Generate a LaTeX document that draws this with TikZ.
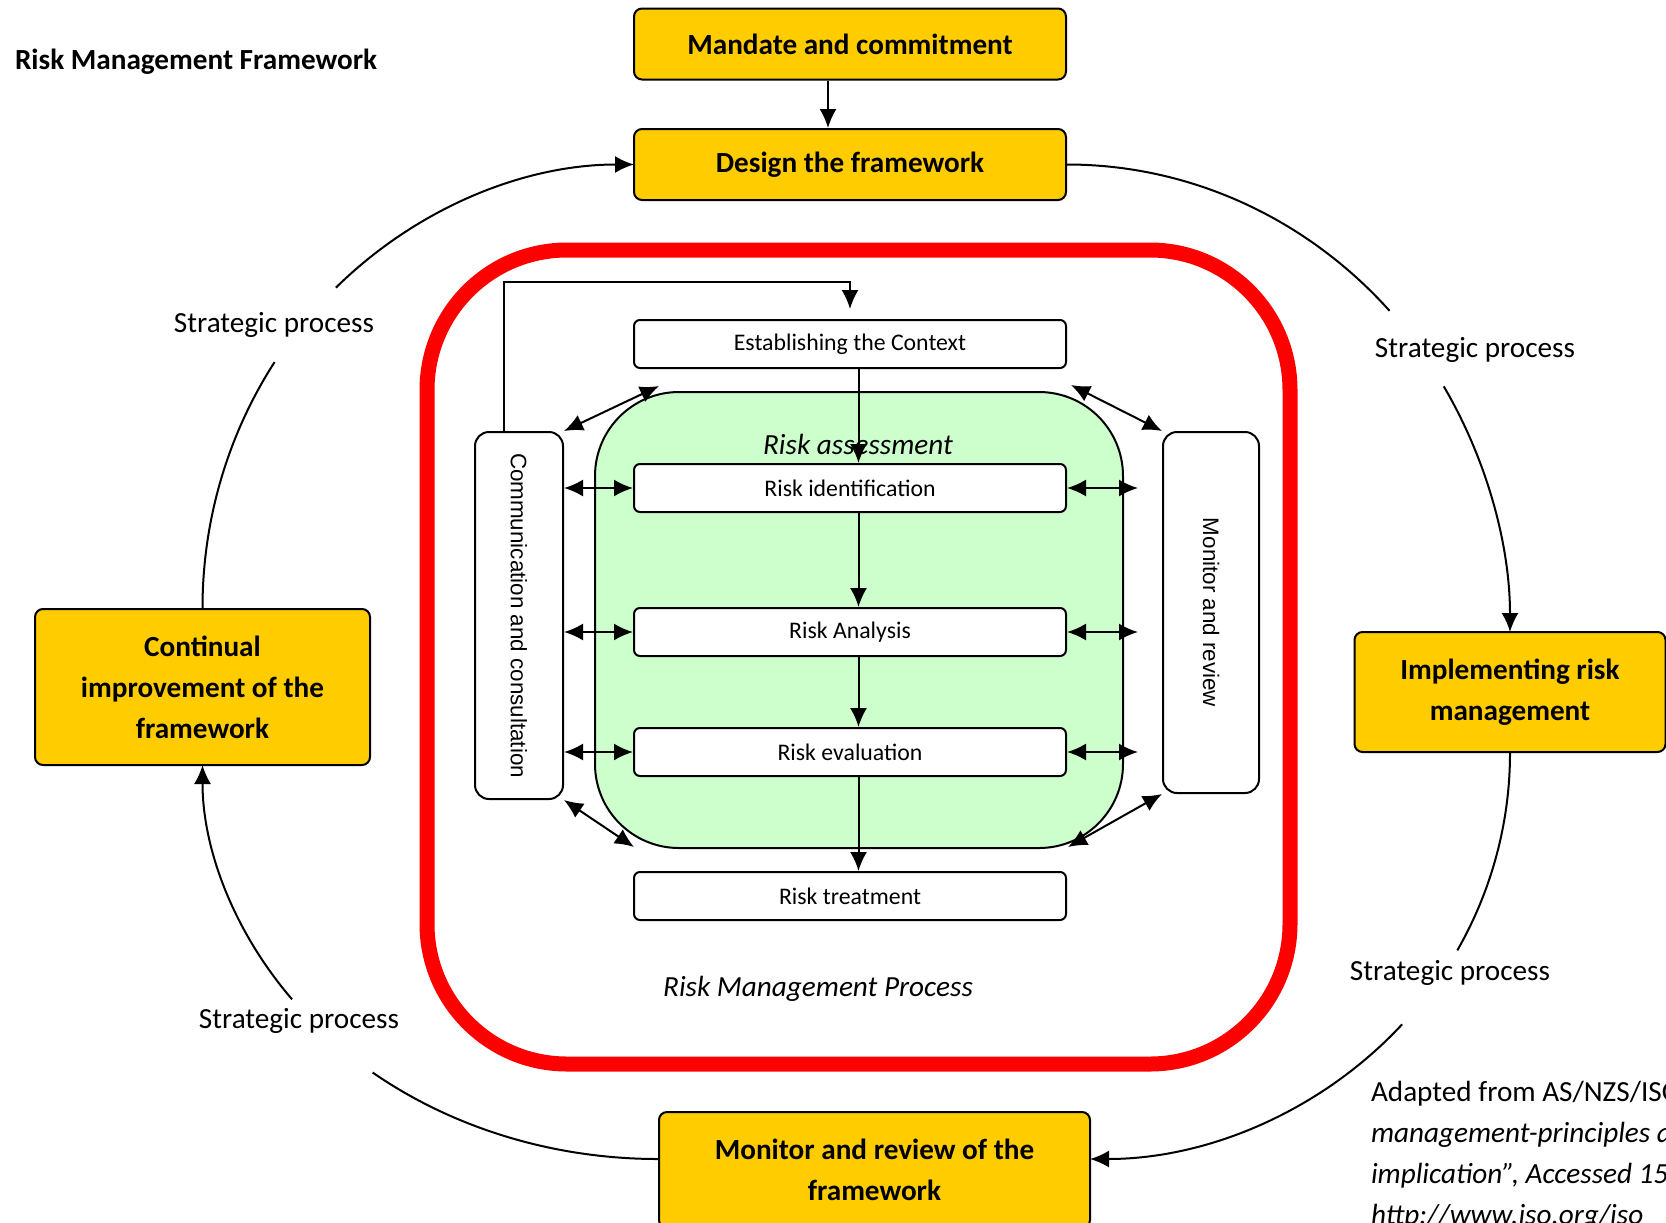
\documentclass[tikz,border=0pt]{standalone}
\usepackage{fontspec}
\setmainfont{Carlito}
\newfontfamily\sidefont{Liberation Sans}
\usepackage{graphicx}
\usepackage{tikz}
\usetikzlibrary{arrows.meta}
\definecolor{frameyellow}{RGB}{255,204,0}
\definecolor{assessgreen}{RGB}{204,255,204}
\tikzstyle{frame box}=[rectangle,draw=black,line width=1pt,fill=frameyellow,
	rounded corners=4pt,align=center,inner sep=0pt,font=\bfseries\fontsize{14.6}{20.5}\selectfont]
\tikzstyle{stage box}=[rectangle,draw=black,line width=1pt,fill=white,rounded corners=3pt,
	minimum width=216pt,minimum height=24pt,inner sep=0pt,font=\fontsize{11.9}{14}\selectfont]

\begin{document}
\begin{tikzpicture}[x=0.5pt,y=-0.5pt,>={Latex[length=9.5pt,width=8.5pt]},line width=1pt]
	\tikzstyle{side box}=[rectangle,draw=black,line width=1pt,fill=white,rounded corners=7pt,
		inner sep=0pt,font=\sidefont\fontsize{11.2}{13}\selectfont]
	\tikzstyle{plain text}=[inner sep=0pt,font=\fontsize{14.6}{20.5}\selectfont]
	\tikzstyle{note text}=[inner sep=0pt,font=\itshape\fontsize{14.6}{20.5}\selectfont]
	\useasboundingbox (0,0) rectangle (1666,1222);

		\draw[red,line width=7.5pt,rounded corners=70pt] (427,250) rectangle (1290,1064);
		\node[rectangle,draw=black,line width=1pt,fill=assessgreen,rounded corners=42pt,
			minimum width=264pt,minimum height=228pt] (assess) at (859,620) {};
		\node[note text] (assesslabel) at (858,444) {Risk assessment};
		\node[note text] (processlabel) at (818,989) {Risk Management Process};

		\node[anchor=west,inner sep=0pt,font=\bfseries\fontsize{14.6}{20.5}\selectfont] (title) at (14,62) {Risk Management Framework};

		\node[frame box,minimum width=216pt,minimum height=35.5pt] (mandate) at (850,44) {Mandate and commitment};
		\node[frame box,minimum width=216pt,minimum height=35.5pt] (design) at (850,164.5) {Design the framework};
		\node[frame box,minimum width=167.5pt,minimum height=78pt] (improve) at (202.5,687) {Continual\\improvement of the\\framework};
		\node[frame box,minimum width=155.5pt,minimum height=60pt] (implement) at (1510,692) {Implementing risk\\management};
		\node[frame box,minimum width=215.5pt,minimum height=58pt] (review) at (874.5,1170) {Monitor and review of the\\framework};

		\node[stage box] (context) at (850,344) {\raisebox{-1.5pt}{Establishing the Context}};
		\node[stage box] (identify) at (850,488) {\raisebox{-1pt}{Risk identification}};
		\node[stage box] (analyse) at (850,632) {\raisebox{-1pt}{Risk Analysis}};
		\node[stage box] (evaluate) at (850,752) {\raisebox{-1pt}{Risk evaluation}};
		\node[stage box] (treat) at (850,896) {\raisebox{-1pt}{Risk treatment}};

		\node[side box,minimum width=44pt,minimum height=183.5pt] (consult) at (519,615.5) {\rotatebox{-90}{Communication and consultation}};
		\node[side box,minimum width=48pt,minimum height=180.5pt] (monitor) at (1211,612.5) {\rotatebox{-90}{Monitor and review}};

		\draw[->] ([xshift=-11pt]mandate.south) -- ([xshift=-11pt]design.north);
		\draw[->] ([xshift=4.25pt]context.south) -- ([xshift=4.25pt]identify.north);
		\draw[->] ([xshift=4.25pt]identify.south) -- ([xshift=4.25pt]analyse.north);
		\draw[->] ([xshift=4.25pt]analyse.south) -- ([xshift=4.25pt]evaluate.north);
		\draw[->] ([xshift=4.25pt]evaluate.south) -- ([xshift=4.25pt]treat.north);
		\draw[->] ([xshift=-7.5pt]consult.north) |- ([yshift=18.5pt]context.north) -- ([yshift=5pt]context.north);

		\coordinate (rim) at (1138,0);
		\foreach \s in {identify,analyse,evaluate} {
			\draw[<->] (consult.east |- \s) -- (\s.west);
			\draw[<->] (\s.east) -- (\s.east -| rim);
		}

		\coordinate (tl) at (659,386);
		\coordinate (tr) at (1071,385);
		\coordinate (bl) at (634,847);
		\coordinate (br) at (1068,847);
		\draw[<->] (consult.north east) -- (tl);
		\draw[<->] (tr) -- (monitor.north west);
		\draw[<->] (consult.south east) -- (bl);
		\draw[<->] (br) -- (monitor.south west);

		\coordinate (c1) at (634,609);
		\coordinate (c2) at (1066,632);
		\coordinate (c3) at (1090,752);
		\coordinate (c4) at (659,765);
		\draw (improve.north) arc[start angle=180,end angle=213.6,x radius=431.5,y radius=444.5];
		\path (c1) ++(226.3:431.5 and 444.5) coordinate (s1);
		\draw[->] (s1) arc[start angle=226.3,end angle=270,x radius=431.5,y radius=444.5];
		\draw (design.east) arc[start angle=270,end angle=316.6,x radius=444,y radius=467.5];
		\path (c2) ++(328.3:444 and 467.5) coordinate (s2);
		\draw[->] (s2) arc[start angle=328.3,end angle=360,x radius=444,y radius=467.5];
		\draw (implement.south) arc[start angle=0,end angle=29,x radius=420,y radius=407];
		\path (c3) ++(42:420 and 407) coordinate (s3);
		\draw[->] (s3) arc[start angle=42,end angle=90,x radius=420,y radius=407];
		\draw ([yshift=5.5pt]review.west) arc[start angle=90,end angle=128.7,x radius=456.5,y radius=394];
		\path (c4) ++(143.5:456.5 and 394) coordinate (s4);
		\draw[->] (s4) arc[start angle=143.5,end angle=180,x radius=456.5,y radius=394];

		\node[plain text] (sp1) at (274,325) {Strategic process};
		\node[plain text] (sp2) at (1475,350) {Strategic process};
		\node[plain text] (sp3) at (1450,973) {Strategic process};
		\node[plain text] (sp4) at (299,1021) {Strategic process};

	\begin{scope}
		\clip (0,0) rectangle (1666,1222);
		\node[plain text,anchor=north west,align=left] (source) at (1370,1080) {Adapted from AS/NZS/ISO\\
			\textit{management-principles a}\\
			\textit{implication'', Accessed 15}\\
			\textit{http://www.iso.org/iso}};
	\end{scope}
\end{tikzpicture}
\end{document}
